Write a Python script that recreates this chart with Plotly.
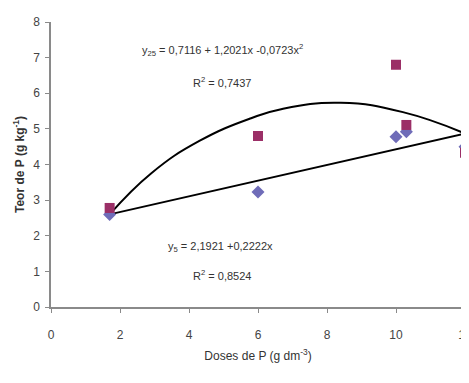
import plotly.graph_objects as go

# Data
doses = [1.7, 6, 10, 10.3, 12]
teor_diamond = [2.6, 3.23, 4.78, 4.92, 4.5]
teor_square = [2.78, 4.8, 6.8, 5.11, 4.33]

# Trendlines as drawn in the picture
fit_lin_x = [1.7, 12]
fit_lin_y = [2.6, 4.87]
fit_quad_x = [1.7, 2.9, 4.3, 5.8, 6.7, 8.4, 10.2, 12]
fit_quad_y = [2.6, 3.75, 4.66, 5.3, 5.56, 5.73, 5.47, 4.87]

x_ticks = [0, 2, 4, 6, 8, 10, 12]
y_ticks = [0, 1, 2, 3, 4, 5, 6, 7, 8]

font_fam = "Liberation Sans Narrow, Arial Narrow, Liberation Sans, sans-serif"
ann_font = dict(family=font_fam, size=11, color="#333333")

fig = go.Figure()
fig.add_trace(go.Scatter(x=fit_quad_x, y=fit_quad_y, mode="lines",
                         line=dict(color="black", width=2, shape="spline", smoothing=1.3),
                         showlegend=False, hoverinfo="skip"))
fig.add_trace(go.Scatter(x=fit_lin_x, y=fit_lin_y, mode="lines",
                         line=dict(color="black", width=2),
                         showlegend=False, hoverinfo="skip"))
fig.add_trace(go.Scatter(x=doses, y=teor_diamond, mode="markers", cliponaxis=False,
                         marker=dict(symbol="diamond", size=10, color="#6f6cb8"),
                         showlegend=False))
fig.add_trace(go.Scatter(x=doses, y=teor_square, mode="markers", cliponaxis=False,
                         marker=dict(symbol="square", size=10, color="#9b2f67"),
                         showlegend=False))

annots = [
    dict(x=4.96, y=7.22, text="y<sub>25</sub> = 0,7116 + 1,2021x -0,0723x<sup>2</sup>"),
    dict(x=4.96, y=6.32, text="R<sup>2</sup> = 0,7437"),
    dict(x=4.9, y=1.69, text="y<sub>5</sub> = 2,1921 +0,2222x"),
    dict(x=4.96, y=0.9, text="R<sup>2</sup> = 0,8524"),
]
for a in annots:
    fig.add_annotation(x=a["x"], y=a["y"], xref="x", yref="y", text=a["text"],
                       showarrow=False, font=ann_font)

# the page body adds an 8px offset, so the figure is slightly smaller
fig.update_layout(
    width=461, height=375,
    margin=dict(l=43, r=4, t=14, b=76),
    paper_bgcolor="white", plot_bgcolor="white",
    font=dict(family=font_fam, size=12, color="#444444"),
    xaxis=dict(range=[0, 12], tickvals=x_ticks, ticktext=[str(v) for v in x_ticks],
               automargin=False, ticklabeloverflow="allow",
               showgrid=False, zeroline=False, showline=True, linecolor="#8a8a8a", linewidth=1.5,
               ticks="outside", ticklen=4, tickcolor="#8a8a8a", ticklabelstandoff=12,
               tickfont=dict(family=font_fam, size=12, color="#444444"),
               title=dict(text="Doses de P (g dm<sup>-3</sup>)", standoff=10,
                          font=dict(family=font_fam, size=12, color="#333333"))),
    yaxis=dict(range=[0, 8], tickvals=y_ticks, ticktext=[str(v) for v in y_ticks],
               automargin=False,
               showgrid=False, zeroline=False, showline=True, linecolor="#8a8a8a", linewidth=1.5,
               ticks="outside", ticklen=4, tickcolor="#8a8a8a", ticklabelstandoff=3,
               tickfont=dict(family=font_fam, size=12, color="#444444"),
               title=dict(text="<b>Teor de P (g kg<sup>-1</sup>)</b>", standoff=6,
                          font=dict(family=font_fam, size=12, color="#333333"))),
)

fig.write_html("out.html")
